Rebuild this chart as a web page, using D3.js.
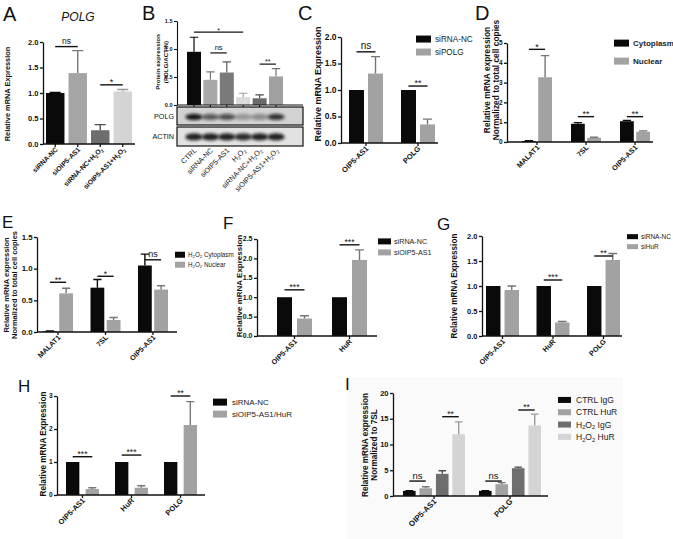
<!DOCTYPE html>
<html><head><meta charset="utf-8">
<script src="https://cdn.jsdelivr.net/npm/d3@7"></script>
<style>body{margin:0;background:#fff}svg{display:block}</style>
</head><body><script>
// ---------------- DATA ----------------
// Panel A
const aCategories = ["siRNA-NC","siOIP5-AS1","siRNA-NC+H₂O₂","siOIP5-AS1+H₂O₂"];
const aValues = [1.00,1.39,0.27,1.03];
const aErrors = [0.01,0.44,0.11,0.04];
const aTicks = [0,0.5,1.0,1.5,2.0];
const aSig = [{a:[0,0],b:[1,0],v:1.91,t:"ns"},{a:[2,0],b:[3,0],v:1.16,t:"*"}];
// Panel B
const bCategories = ["CTRL","siRNA-NC","siOIP5-AS1","H₂O₂","siRNA-NC+H₂O₂","siOIP5-AS1+H₂O₂"];
const bValues = [0.95,0.45,0.58,0.14,0.12,0.51];
const bErrors = [0.26,0.14,0.19,0.07,0.06,0.14];
const bTicks = [0,0.5,1.0,1.5];
const bSig = [{a:[0,0],b:[3,0],v:1.30,t:"*"},{a:[1,0],b:[2,0],v:0.93,t:"ns"},{a:[4,0],b:[5,0],v:0.73,t:"**"}];
const bPolgBand = [0.95,0.6,0.65,0.3,0.35,0.8];
const bActinBand = [0.9,0.9,0.9,0.85,0.9,0.9];
// Panel C
const cCategories = ["OIP5-AS1","POLG"];
const cSeries = ["siRNA-NC","siPOLG"];
const cNC = [1.0,1.0];
const cSi = [1.31,0.35];
const cSiErr = [0.32,0.10];
const cTicks = [0,0.5,1.0,1.5,2.0];
const cSig = [{a:[0,0],b:[0,1],v:1.72,t:"ns"},{a:[1,0],b:[1,1],v:1.075,t:"**"}];
// Panel D
const dCategories = ["MALAT1","7SL","OIP5-AS1"];
const dSeries = ["Cytoplasm","Nuclear"];
const dCyto = [0.05,0.92,1.05];
const dCytoErr = [0.02,0.06,0.04];
const dNuc = [3.27,0.21,0.52];
const dNucErr = [1.09,0.03,0.04];
const dTicks = [0,1,2,3,4,5];
const dSig = [{a:[0,0],b:[0,1],v:4.68,t:"*"},{a:[1,0],b:[1,1],v:1.28,t:"**"},{a:[2,0],b:[2,1],v:1.28,t:"**"}];
// Panel E
const eCategories = ["MALAT1","7SL","OIP5-AS1"];
const eSeries = ["H₂O₂ Cytoplasm","H₂O₂ Nuclear"];
const eCyto = [0.01,0.70,1.05];
const eCytoErr = [0.005,0.13,0.18];
const eNuc = [0.61,0.19,0.67];
const eNucErr = [0.08,0.04,0.06];
const eTicks = [0,0.5,1.0,1.5];
const eSig = [{a:[0,0],b:[0,1],v:0.785,t:"**"},{a:[1,0],b:[1,1],v:0.88,t:"*"},{a:[2,0],b:[2,1],v:1.14,t:"ns"}];
// Panel F
const fCategories = ["OIP5-AS1","HuR"];
const fSeries = ["siRNA-NC","siOIP5-AS1"];
const fNC = [1.0,1.0];
const fSi = [0.45,1.96];
const fSiErr = [0.07,0.26];
const fTicks = [0,0.5,1.0,1.5,2.0,2.5];
const fSig = [{a:[0,0],b:[0,1],v:1.19,t:"***"},{a:[1,0],b:[1,1],v:2.35,t:"***"}];
// Panel G
const gCategories = ["OIP5-AS1","HuR","POLG"];
const gSeries = ["siRNA-NC","siHuR"];
const gNC = [1.0,1.0,1.0];
const gSi = [0.92,0.27,1.52];
const gSiErr = [0.08,0.02,0.13];
const gTicks = [0,0.5,1.0,1.5,2.0];
const gSig = [{a:[1,0],b:[1,1],v:1.12,t:"***"},{a:[2,0],b:[2,1],v:1.6,t:"**"}];
// Panel H
const hCategories = ["OIP5-AS1","HuR","POLG"];
const hSeries = ["siRNA-NC","siOIP5-AS1/HuR"];
const hNC = [1.0,1.0,1.0];
const hSi = [0.18,0.22,2.12];
const hSiErr = [0.04,0.06,0.71];
const hTicks = [0,1,2,3];
const hSig = [{a:[0,0],b:[0,1],v:1.16,t:"***"},{a:[1,0],b:[1,1],v:1.21,t:"***"},{a:[2,0],b:[2,1],v:3.0,t:"**"}];
// Panel I
const iCategories = ["OIP5-AS1","POLG"];
const iSeries = ["CTRL IgG","CTRL HuR","H₂O₂ IgG","H₂O₂ HuR"];
const iCtrlIgG = [1.0,1.0];
const iCtrlIgGErr = [0.05,0.05];
const iCtrlHuR = [1.5,2.3];
const iCtrlHuRErr = [0.3,0.3];
const iH2O2IgG = [4.3,5.4];
const iH2O2IgGErr = [0.6,0.2];
const iH2O2HuR = [12.0,13.7];
const iH2O2HuRErr = [2.4,2.2];
const iTicks = [0,5,10,15,20];
const iSig = [{a:[0,0],b:[0,1],v:2.9,t:"ns"},{a:[0,2],b:[0,3],v:15.4,t:"**"},{a:[1,0],b:[1,1],v:2.9,t:"ns"},{a:[1,2],b:[1,3],v:16.7,t:"**"}];

// ---------------- DRAWING ----------------
const FONT = '"Liberation Sans", Arial, Helvetica, sans-serif';
const BLACK = "#0a0a0a", GRAY = "#a2a2a2", DARK = "#6e6e6e", LIGHT = "#d4d4d4";
const svg = d3.select("body").append("svg").attr("width",673).attr("height",539)
  .attr("font-family", FONT);
svg.append("rect").attr("width",673).attr("height",539).attr("fill","#fff");
svg.append("rect").attr("x",347).attr("y",377).attr("width",276).attr("height",162).attr("fill","#fafafa");

function rich(t, str, fs){
  const parts = str.split(/(₂)/);
  let sub = false;
  parts.forEach(p=>{
    if(!p) return;
    if(p==="₂"){ t.append("tspan").attr("font-size",fs*0.68).attr("dy",fs*0.22).text("2"); sub=true; }
    else { const s=t.append("tspan").text(p); if(sub){ s.attr("dy",-fs*0.22); sub=false; } }
  });
}
function errColor(c){ const k=d3.color(c); return (k.r+k.g+k.b)<60 ? BLACK : k.darker(0.9).formatHex(); }

function panel(o){
  const g = svg.append("g");
  const y = d3.scaleLinear().domain([0,o.ymax]).range([o.yb,o.yt]);
  const x = d3.scaleBand().domain(o.cats).range(o.band).paddingInner(o.pi).paddingOuter(0);
  const xs = d3.scaleBand().domain(d3.range(o.series.length)).range([0,x.bandwidth()]).paddingInner(o.spi||0);
  const bw = xs.bandwidth();
  const rows = [];
  o.series.forEach((s,si)=>o.cats.forEach((c,ci)=>rows.push({c,ci,si,v:s.values[ci],e:s.errors?s.errors[ci]:0,col:s.colors?s.colors[ci]:s.color})));
  const cx = (ci,si)=>x(o.cats[ci])+xs(si)+bw/2;
  g.selectAll("rect.bar").data(rows).join("rect").attr("class","bar")
    .attr("x",d=>x(d.c)+xs(d.si)).attr("y",d=>y(d.v)).attr("width",bw).attr("height",d=>y(0)-y(d.v)).attr("fill",d=>d.col);
  g.selectAll("path.err").data(rows.filter(d=>d.e>0)).join("path").attr("class","err")
    .attr("d",d=>{const X=cx(d.ci,d.si), Y0=y(d.v), Y1=y(d.v+d.e); return `M${X},${Y0}V${Y1}M${X-bw*0.3},${Y1}H${X+bw*0.3}`;})
    .attr("stroke",d=>errColor(d.col)).attr("stroke-width",o.ew||1.4).attr("fill","none");
  // y axis (lines from d3 axis, labels as own text)
  const yg = g.append("g").attr("transform",`translate(${o.xl},0)`)
    .call(d3.axisLeft(y).tickValues(o.ticks).tickFormat("").tickSize(3).tickSizeOuter(0));
  yg.selectAll("line,path").attr("stroke","#111").attr("stroke-width",o.aw||1.3);
  g.selectAll("text.ytick").data(o.ticks).join("text").attr("class","ytick")
    .attr("x",o.xl-4.5).attr("y",d=>y(d)).attr("dy","0.35em").attr("text-anchor","end")
    .attr("font-size",o.tfs).attr("font-weight","bold").attr("fill","#111")
    .text(d3.format(o.fmt));
  // x axis
  const xg = g.append("g").attr("transform",`translate(0,${o.yb})`)
    .call(d3.axisBottom(x).tickSize(3).tickSizeOuter(0).tickFormat(""));
  xg.select(".domain").attr("d",`M${o.xl},0H${o.xr}`);
  xg.selectAll("line,path").attr("stroke","#111").attr("stroke-width",o.aw||1.3);
  // x labels
  const ly = o.xlab.y0 !== undefined ? o.xlab.y0 : o.yb + o.xlab.dy;
  o.cats.forEach(c=>{
    const X = x(c)+x.bandwidth()/2 + o.xlab.dx;
    const t = g.append("text").attr("text-anchor","end").attr("font-size",o.xlab.fs)
      .attr("font-weight",o.xlab.weight||"bold").attr("fill","#111")
      .attr("transform",`translate(${X},${ly}) rotate(-45)`);
    rich(t,c,o.xlab.fs);
  });
  // y label
  o.ylab.lines.forEach((l,i)=>{
    g.append("text").attr("text-anchor","middle").attr("font-size",o.ylab.fs).attr("font-weight","bold").attr("fill","#111")
      .attr("transform",`translate(${o.ylab.xs[i]},${o.ylab.yc}) rotate(-90)`).text(l);
  });
  // significance
  (o.sig||[]).forEach(s=>{
    const x1 = cx(s.a[0],s.a[1]), x2 = cx(s.b[0],s.b[1]), Y = y(s.v);
    g.append("line").attr("x1",x1).attr("x2",x2).attr("y1",Y).attr("y2",Y).attr("stroke","#111").attr("stroke-width",o.sw||1.4);
    g.append("text").attr("x",(x1+x2)/2).attr("y",s.t==="ns"?Y-2.5:Y+ (o.sfs*0.05)).attr("text-anchor","middle")
      .attr("font-size",s.t==="ns"?o.nsfs:o.sfs).attr("fill","#111").text(s.t);
  });
  // legend
  if(o.legend){
    const L = o.legend;
    o.series.forEach((s,i)=>{
      const by = L.y0 + i*L.step;
      g.append("rect").attr("x",L.x).attr("y",by-0.36*L.fs-L.sh/2).attr("width",L.sw).attr("height",L.sh).attr("fill",s.color);
      const t = g.append("text").attr("x",L.x+L.sw+L.gap).attr("y",by).attr("font-size",L.fs)
        .attr("font-weight",L.weight||"normal").attr("fill","#222");
      rich(t,s.name,L.fs);
    });
  }
  return {x,xs,y,g};
}
function letter(t,x,y,fs){ svg.append("text").attr("x",x).attr("y",y).attr("font-size",fs).attr("fill","#111").text(t); }

// Panel A
letter("A",3,21,20);
svg.append("text").attr("x",78).attr("y",21).attr("text-anchor","middle").attr("font-size",12).attr("font-style","italic").attr("fill","#111").text("POLG");
panel({cats:aCategories, series:[{values:aValues,errors:aErrors,colors:[BLACK,"#a5a5a5",DARK,LIGHT]}],
  band:[46,132], pi:0.18, xl:43, xr:135, yb:144, yt:42, ymax:2, ticks:aTicks, fmt:".1f", tfs:7.5,
  ylab:{lines:["Relative mRNA Expression"], xs:[10], yc:94, fs:7.4},
  xlab:{fs:6.8, dx:3, dy:6}, sig:aSig, sfs:9, nsfs:8.5});

// Panel B
letter("B",142,20,20);
const pb = panel({cats:bCategories, series:[{values:bValues,errors:bErrors,colors:[BLACK,"#a8a8a8","#7a7a7a","#dadada","#6a6a6a","#a0a0a0"]}],
  band:[187,283], pi:0.146, xl:177, xr:303, yb:105, yt:21, ymax:1.5, ticks:bTicks, fmt:".1f", tfs:5.5, aw:1.1, ew:1.2,
  ylab:{lines:["Protein expression","(POLG/ACTIN)"], xs:[160,168], yc:62, fs:6.2},
  xlab:{fs:7.2, dx:3, y0:151, weight:"normal"}, sig:bSig, sfs:7, nsfs:7.5, sw:1.2});
// western blot
(function(){
  const defs = svg.append("defs");
  defs.append("filter").attr("id","blur").attr("x","-50%").attr("y","-50%").attr("width","200%").attr("height","200%")
    .append("feGaussianBlur").attr("stdDeviation",1.6);
  const boxes = [{name:"POLG", y0:107, y1:125, bands:bPolgBand, bg:"#d2d2d2", ry:3.2, cyf:0.55},
                 {name:"ACTIN", y0:127, y1:146, bands:bActinBand, bg:"#e2e2e2", ry:3.6, cyf:0.52}];
  boxes.forEach((b,bi)=>{
    const cid = "clip"+bi;
    defs.append("clipPath").attr("id",cid).append("rect").attr("x",177).attr("y",b.y0).attr("width",126).attr("height",b.y1-b.y0);
    svg.append("rect").attr("x",177).attr("y",b.y0).attr("width",126).attr("height",b.y1-b.y0).attr("fill",b.bg);
    const gg = svg.append("g").attr("clip-path",`url(#${cid})`);
    gg.selectAll("ellipse").data(bCategories).join("ellipse")
      .attr("cx",(c)=>pb.x(c)+pb.x.bandwidth()/2).attr("cy",b.y0+(b.y1-b.y0)*b.cyf)
      .attr("rx",pb.x.bandwidth()*0.62).attr("ry",b.ry)
      .attr("fill","#111").attr("opacity",(c,i)=>b.bands[i]).attr("filter","url(#blur)");
    svg.append("rect").attr("x",177).attr("y",b.y0).attr("width",126).attr("height",b.y1-b.y0).attr("fill","none").attr("stroke","#111").attr("stroke-width",1.2);
    svg.append("text").attr("x",174).attr("y",(b.y0+b.y1)/2+2.6).attr("text-anchor","end").attr("font-size",7.2).attr("fill","#111").text(b.name);
  });
})();

// Panel C
letter("C",298,20,20);
panel({cats:cCategories, series:[{name:cSeries[0],values:cNC,color:BLACK},{name:cSeries[1],values:cSi,errors:cSiErr,color:GRAY}],
  band:[349,435], pi:0.346, spi:0.21, xl:341, xr:438, yb:143, yt:37, ymax:2, ticks:cTicks, fmt:".1f", tfs:8.5,
  ylab:{lines:["Relative mRNA Expression"], xs:[321], yc:84, fs:9},
  xlab:{fs:7.5, dx:3, dy:6}, sig:cSig, sfs:9, nsfs:10,
  legend:{x:416, y0:42, step:13, fs:8.2, sw:15, sh:7, gap:4}});

// Panel D
letter("D",475,20,20);
panel({cats:dCategories, series:[{name:dSeries[0],values:dCyto,errors:dCytoErr,color:BLACK},{name:dSeries[1],values:dNuc,errors:dNucErr,color:GRAY}],
  band:[522,650], pi:0.388, spi:0.15, xl:507, xr:653, yb:142, yt:43, ymax:5, ticks:dTicks, fmt:"d", tfs:6.5,
  ylab:{lines:["Relative mRNA expression","Normalized to total cell copies"], xs:[490,499], yc:80, fs:8.4},
  xlab:{fs:7.2, dx:3, dy:6}, sig:dSig, sfs:9, nsfs:9,
  legend:{x:614, y0:46, step:18, fs:8, sw:15, sh:7, gap:4, weight:"bold"}});

// Panel E
letter("E",2,228,17);
panel({cats:eCategories, series:[{name:eSeries[0],values:eCyto,errors:eCytoErr,color:BLACK},{name:eSeries[1],values:eNuc,errors:eNucErr,color:GRAY}],
  band:[43,168], pi:0.368, spi:0.15, xl:37, xr:177, yb:332, yt:237, ymax:1.5, ticks:eTicks, fmt:".1f", tfs:7.8,
  ylab:{lines:["Relative mRNA expression","Normalized to total cell copies"], xs:[9,17], yc:285, fs:7.5},
  xlab:{fs:7.2, dx:3, dy:6}, sig:eSig, sfs:8.5, nsfs:9,
  legend:{x:175, y0:257, step:10, fs:6.3, sw:10, sh:6, gap:3}});

// Panel F
letter("F",223,229,17);
panel({cats:fCategories, series:[{name:fSeries[0],values:fNC,color:BLACK},{name:fSeries[1],values:fSi,errors:fSiErr,color:GRAY}],
  band:[277,367], pi:0.364, spi:0.25, xl:257, xr:377, yb:336, yt:239, ymax:2.5, ticks:fTicks, fmt:".1f", tfs:7,
  ylab:{lines:["Relative mRNA Expression"], xs:[242], yc:286, fs:8},
  xlab:{fs:7.2, dx:3, dy:6}, sig:fSig, sfs:8.5, nsfs:9,
  legend:{x:378, y0:244, step:11, fs:7.2, sw:13, sh:6, gap:3}});

// Panel G
letter("G",437,230,17);
panel({cats:gCategories, series:[{name:gSeries[0],values:gNC,color:BLACK},{name:gSeries[1],values:gSi,errors:gSiErr,color:GRAY}],
  band:[486,620], pi:0.347, spi:0.22, xl:482, xr:622, yb:336, yt:236, ymax:2, ticks:gTicks, fmt:".1f", tfs:7.5,
  ylab:{lines:["Relative mRNA Expression"], xs:[457], yc:286, fs:8.2},
  xlab:{fs:7.2, dx:3, dy:6}, sig:gSig, sfs:8.5, nsfs:9,
  legend:{x:627, y0:239, step:10, fs:6.5, sw:11, sh:5, gap:3}});

// Panel H
letter("H",18,392,17);
panel({cats:hCategories, series:[{name:hSeries[0],values:hNC,color:BLACK},{name:hSeries[1],values:hSi,errors:hSiErr,color:GRAY}],
  band:[66,197], pi:0.327, spi:0.32, xl:57, xr:205, yb:495, yt:396, ymax:3, ticks:hTicks, fmt:"d", tfs:6.5,
  ylab:{lines:["Relative mRNA Expression"], xs:[46], yc:444, fs:8.2},
  xlab:{fs:7.5, dx:3, dy:6}, sig:hSig, sfs:8.5, nsfs:9,
  legend:{x:213, y0:405, step:12, fs:8, sw:14, sh:7, gap:5}});

// Panel I
letter("I",345,390,17);
panel({cats:iCategories, series:[{name:iSeries[0],values:iCtrlIgG,errors:iCtrlIgGErr,color:BLACK},
    {name:iSeries[1],values:iCtrlHuR,errors:iCtrlHuRErr,color:GRAY},
    {name:iSeries[2],values:iH2O2IgG,errors:iH2O2IgGErr,color:DARK},
    {name:iSeries[3],values:iH2O2HuR,errors:iH2O2HuRErr,color:LIGHT}],
  band:[403,541], pi:0.184, spi:0.235, xl:393, xr:548, yb:496, yt:393, ymax:20, ticks:iTicks, fmt:"d", tfs:7.5,
  ylab:{lines:["Relative mRNA expression","Normalized to 7SL"], xs:[368,377], yc:445, fs:8.2},
  xlab:{fs:7.8, dx:3, dy:6}, sig:iSig, sfs:8.5, nsfs:9.5,
  legend:{x:558, y0:403, step:12.3, fs:8.5, sw:13, sh:6, gap:5}});
</script></body></html>
